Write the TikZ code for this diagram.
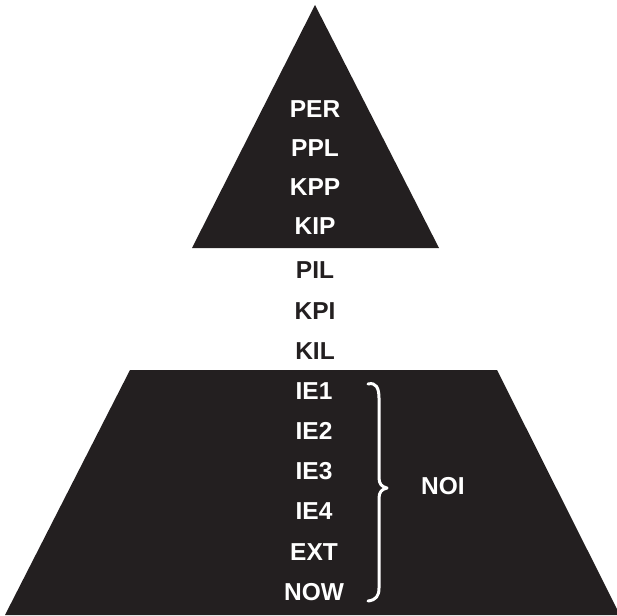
\documentclass[tikz,border=0pt]{standalone}
\usepackage{fontspec}
\setmainfont{Liberation Sans}
\definecolor{ink}{RGB}{35,31,32}
\begin{document}
\begin{tikzpicture}[x=1pt,y=-1pt,
  lbl/.style={font=\fontsize{24.5}{24.5}\selectfont\bfseries, inner sep=0pt, anchor=center},
  wlbl/.style={lbl, text=white},
  blbl/.style={lbl, text=ink}]
\useasboundingbox (0,0) rectangle (617,615);
% triangle
\fill[ink] (315,5) -- (439,248) -- (192,248) -- cycle;
% trapezoid
\fill[ink] (130,370) -- (497,370) -- (620,615) -- (5,615) -- cycle;
% labels in triangle
\node[wlbl] (per) at (315,109) {PER};
\node[wlbl] (ppl) at (315,148) {PPL};
\node[wlbl] (kpp) at (315,187) {KPP};
\node[wlbl] (kip) at (315,226) {KIP};
% between
\node[blbl] (pil) at (315,270) {PIL};
\node[blbl] (kpi) at (315,311) {KPI};
\node[blbl] (kil) at (315,351) {KIL};
% trapezoid labels
\node[wlbl] (ie1) at (314,391) {IE1};
\node[wlbl] (ie2) at (314,431) {IE2};
\node[wlbl] (ie3) at (314,471) {IE3};
\node[wlbl] (ie4) at (314,511) {IE4};
\node[wlbl] (ext) at (314,552) {EXT};
\node[wlbl] (now) at (314,592) {NOW};
\node[wlbl] (noi) at (443,486) {NOI};
% brace
\draw[white, line width=3pt, line cap=round, line join=round]
  (368,384) .. controls (376,382) and (379,388) .. (379,398) -- (379,478)
  .. controls (379,484) and (382,487) .. (387,488)
  .. controls (382,489) and (379,492) .. (379,498) -- (379,588)
  .. controls (379,596) and (376,600) .. (368,601);
\end{tikzpicture}
\end{document}
